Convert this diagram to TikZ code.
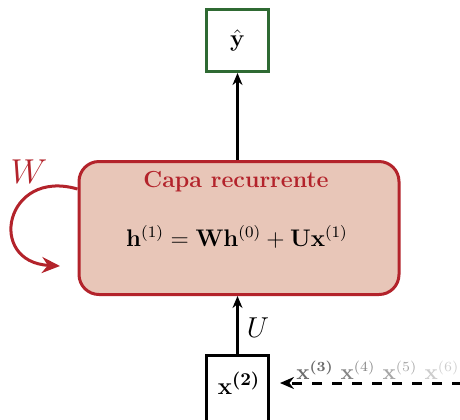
\documentclass[tikz,border=0pt]{standalone}
\usepackage{amsmath,bm}
\usetikzlibrary{arrows.meta,calc}
\definecolor{boxred}{HTML}{B3232B}
\definecolor{boxfill}{HTML}{E8C6B8}
\definecolor{boxgreen}{HTML}{2F6A33}
\tikzset{
  sqbox/.style={draw, line width=1.5pt, minimum width=31pt, minimum height=31pt, inner sep=0pt, fill=white},
  arr/.style={-{Stealth[length=6pt,width=5pt]}, line width=1.5pt},
  lbl/.style={inner sep=0pt},
  seq/.style={inner sep=0pt, font=\fontsize{10.5}{12}\selectfont}
}
\begin{document}
\begin{tikzpicture}[x=0.5pt,y=-0.5pt]
\useasboundingbox (0,0) rectangle (460,419);
\node[sqbox, draw=boxgreen, font=\fontsize{13}{15}\selectfont] (yhat) at (237.5,40.5) {$\hat{\mathbf{y}}$};
\node[draw=boxred, fill=boxfill, line width=1.5pt, rounded corners=10pt,
      minimum width=160pt, minimum height=66.5pt, inner sep=0pt] (rnn) at (239,228) {};
\node[lbl, text=boxred, font=\fontsize{11.6}{13}\selectfont\bfseries] (title) at (236,182) {Capa recurrente};
\node[lbl, font=\fontsize{12}{14}\selectfont] (eq) at (237,237) {$\mathbf{h}^{(1)} = \mathbf{W}\mathbf{h}^{(0)} + \mathbf{U}\mathbf{x}^{(1)}$};
\node[sqbox, draw=black, minimum height=34pt, anchor=north] (x2) at (237.5,353.5) {};
\node[lbl, font=\fontsize{12.5}{14}\selectfont] (x2t) at (239,383) {$\mathbf{x}^{\bm{(2)}}$};
\draw[arr] (yhat.south |- rnn.north) -- (yhat.south);
\draw[arr] (x2.north) -- (x2.north |- rnn.south);
\node[lbl, font=\fontsize{14}{16}\selectfont] (U) at (258,328) {$U$};
\coordinate (dstart) at (462,383);
\coordinate (dend) at (280,383);
\draw[line width=1.5pt, dash pattern=on 5pt off 5pt, -{Stealth[length=7pt,width=6pt]}] (dstart) -- (dend);
\node[seq, text=black!58] (x3) at (315,370) {$\mathbf{x}^{\bm{(3)}}$};
\node[seq, text=black!48] (x4) at (358,370) {$\mathbf{x}^{(4)}$};
\node[seq, text=black!35] (x5) at (400,370) {$\mathbf{x}^{(5)}$};
\node[seq, text=black!20] (x6) at (442,370) {$\mathbf{x}^{(6)}$};
\coordinate (ls) at ($(rnn.north west)+(0,29)$);
\coordinate (le) at (60,266);
\draw[boxred, line width=1.5pt, -{Stealth[length=9pt,width=8pt]}] (ls) .. controls (5,168) and (-14,262) .. (le);
\node[lbl, text=boxred, font=\fontsize{16}{18}\selectfont] (W) at (29,172) {$W$};
\end{tikzpicture}
\end{document}
